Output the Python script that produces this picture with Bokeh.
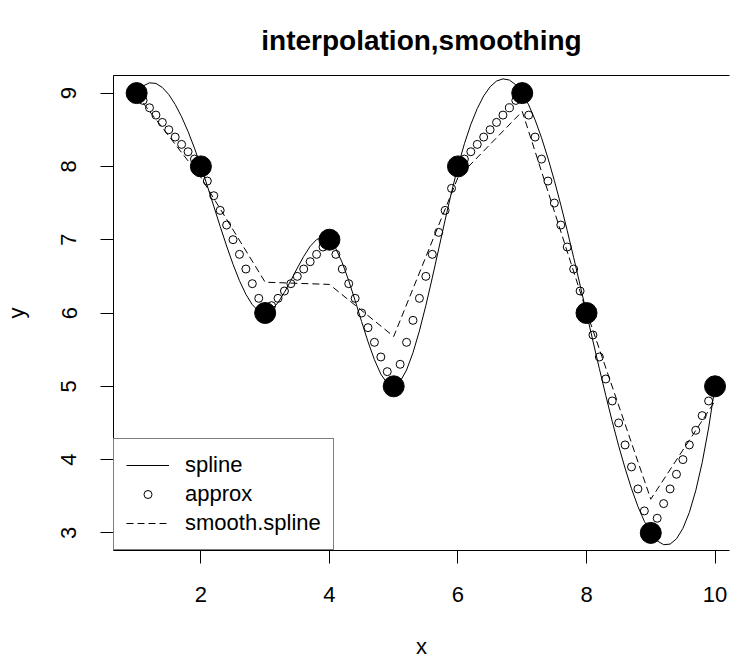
from bokeh.plotting import figure
from bokeh.models import Range1d, LinearAxis, FixedTicker, Legend, LegendItem
from bokeh.embed import file_html
from bokeh.resources import INLINE

# observed data points
pts_x = [1, 2, 3, 4, 5, 6, 7, 8, 9, 10]
pts_y = [9, 8, 6, 7, 5, 8, 9, 6, 3, 5]

# fine sampling grid used by the spline curve and the approx circles
grid_x = [1.0, 1.1, 1.2, 1.3, 1.4, 1.5, 1.6, 1.7, 1.8, 1.9,
          2.0, 2.1, 2.2, 2.3, 2.4, 2.5, 2.6, 2.7, 2.8, 2.9,
          3.0, 3.1, 3.2, 3.3, 3.4, 3.5, 3.6, 3.7, 3.8, 3.9,
          4.0, 4.1, 4.2, 4.3, 4.4, 4.5, 4.6, 4.7, 4.8, 4.9,
          5.0, 5.1, 5.2, 5.3, 5.4, 5.5, 5.6, 5.7, 5.8, 5.9,
          6.0, 6.1, 6.2, 6.3, 6.4, 6.5, 6.6, 6.7, 6.8, 6.9,
          7.0, 7.1, 7.2, 7.3, 7.4, 7.5, 7.6, 7.7, 7.8, 7.9,
          8.0, 8.1, 8.2, 8.3, 8.4, 8.5, 8.6, 8.7, 8.8, 8.9,
          9.0, 9.1, 9.2, 9.3, 9.4, 9.5, 9.6, 9.7, 9.8, 9.9,
          10.0]

spline_y = [9.0, 9.097, 9.140, 9.132, 9.077, 8.980, 8.845, 8.676, 8.476, 8.249,
            8.0, 7.734, 7.458, 7.181, 6.914, 6.664, 6.441, 6.255, 6.113, 6.025,
            6.0, 6.043, 6.142, 6.281, 6.444, 6.613, 6.773, 6.909, 7.002, 7.038,
            7.0, 6.878, 6.685, 6.442, 6.168, 5.884, 5.609, 5.363, 5.166, 5.039,
            5.0, 5.064, 5.222, 5.458, 5.756, 6.101, 6.479, 6.873, 7.268, 7.649,
            8.0, 8.309, 8.572, 8.789, 8.961, 9.086, 9.164, 9.194, 9.178, 9.113,
            9.0, 8.839, 8.635, 8.391, 8.113, 7.806, 7.475, 7.124, 6.757, 6.381,
            6.0, 5.618, 5.242, 4.874, 4.522, 4.189, 3.882, 3.604, 3.361, 3.158,
            3.0, 2.892, 2.839, 2.847, 2.919, 3.062, 3.279, 3.577, 3.959, 4.432,
            5.0]

approx_y = [9.0, 8.9, 8.8, 8.7, 8.6, 8.5, 8.4, 8.3, 8.2, 8.1,
            8.0, 7.8, 7.6, 7.4, 7.2, 7.0, 6.8, 6.6, 6.4, 6.2,
            6.0, 6.1, 6.2, 6.3, 6.4, 6.5, 6.6, 6.7, 6.8, 6.9,
            7.0, 6.8, 6.6, 6.4, 6.2, 6.0, 5.8, 5.6, 5.4, 5.2,
            5.0, 5.3, 5.6, 5.9, 6.2, 6.5, 6.8, 7.1, 7.4, 7.7,
            8.0, 8.1, 8.2, 8.3, 8.4, 8.5, 8.6, 8.7, 8.8, 8.9,
            9.0, 8.7, 8.4, 8.1, 7.8, 7.5, 7.2, 6.9, 6.6, 6.3,
            6.0, 5.7, 5.4, 5.1, 4.8, 4.5, 4.2, 3.9, 3.6, 3.3,
            3.0, 3.2, 3.4, 3.6, 3.8, 4.0, 4.2, 4.4, 4.6, 4.8,
            5.0]

smooth_x = [1, 2, 3, 4, 5, 6, 7, 8, 9, 10]
smooth_y = [8.98, 7.85, 6.42, 6.39, 5.68, 7.85, 8.75, 6.02, 3.46, 4.80]

x_ticks = [2, 4, 6, 8, 10]
y_ticks = [3, 4, 5, 6, 7, 8, 9]
legend_labels = ["spline", "approx", "smooth.spline"]
title_text = "interpolation,smoothing"
x_title = "x"
y_title = "y"
FONT = "Liberation Sans"

p = figure(width=730, height=661, output_backend="svg", toolbar_location=None,
           x_range=Range1d(0.64, 10.225), y_range=Range1d(2.76, 9.24),
           x_axis_location=None, y_axis_location=None,
           min_border_left=112, min_border_right=1, min_border_top=75, min_border_bottom=110,
           background_fill_color="white", border_fill_color="white")
p.outline_line_color = None
p.grid.visible = False

p.title.text = title_text
p.title.text_font = FONT
p.title.text_font_size = "28px"
p.title.text_font_style = "bold"
p.title.align = "center"
p.title.offset = 2
p.title.standoff = 40
p.title.text_color = "black"

def style_axis(ax):
    ax.axis_line_color = "black"
    ax.axis_line_width = 1
    ax.major_tick_line_color = "black"
    ax.major_tick_in = 0
    ax.major_tick_out = 13
    ax.minor_tick_line_color = None
    ax.major_label_text_font = FONT
    ax.major_label_text_font_size = "22px"
    ax.major_label_text_color = "black"
    ax.axis_label_text_font = FONT
    ax.axis_label_text_font_size = "22px"
    ax.axis_label_text_font_style = "normal"
    ax.axis_label_text_color = "black"

xax = LinearAxis(ticker=FixedTicker(ticks=x_ticks), axis_label=x_title)
style_axis(xax)
xax.major_label_standoff = 23
xax.axis_label_standoff = 29
p.add_layout(xax, "below")

yax = LinearAxis(ticker=FixedTicker(ticks=y_ticks), axis_label=y_title)
style_axis(yax)
yax.major_label_orientation = "vertical"
yax.major_label_standoff = 24
yax.axis_label_standoff = 30
p.add_layout(yax, "left")

top = LinearAxis(ticker=FixedTicker(ticks=[]))
top.axis_line_color = "black"
top.major_tick_line_color = None
top.minor_tick_line_color = None
top.major_label_text_font_size = "0px"
p.add_layout(top, "above")

r_spline = p.line(grid_x, spline_y, line_color="black", line_width=1)
r_approx = p.scatter(grid_x, approx_y, marker="circle", size=8, fill_color=None,
                     line_color="black", line_width=1)
r_smooth = p.line(smooth_x, smooth_y, line_color="black", line_width=1, line_dash="7 4")
p.scatter(pts_x, pts_y, marker="circle", size=21, fill_color="black", line_color="black")

legend = Legend(items=[LegendItem(label=legend_labels[0], renderers=[r_spline]),
                       LegendItem(label=legend_labels[1], renderers=[r_approx]),
                       LegendItem(label=legend_labels[2], renderers=[r_smooth])],
                location="bottom_left", margin=0, padding=12, spacing=1,
                glyph_width=43, label_standoff=16, label_height=28,
                label_text_font=FONT, label_text_font_size="22px", label_text_color="black",
                border_line_color="black", border_line_width=1,
                background_fill_color="white", background_fill_alpha=1.0)
p.add_layout(legend, "center")

open("out.html", "w").write(file_html(p, INLINE))
